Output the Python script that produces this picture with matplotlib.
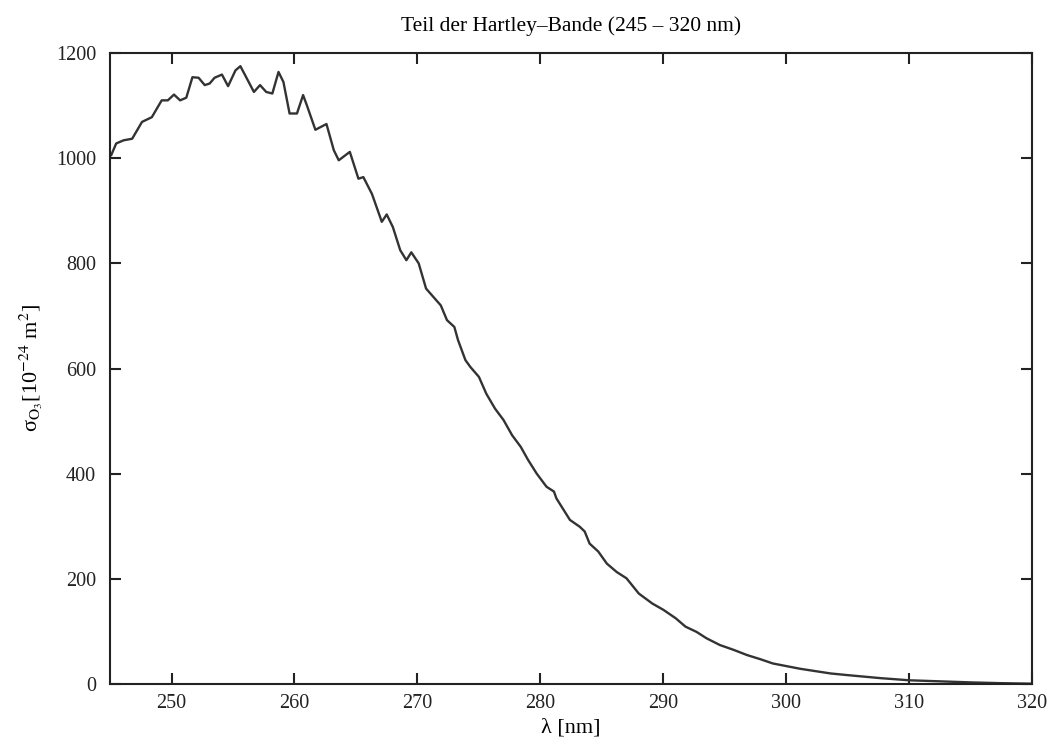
import numpy as np
import matplotlib
matplotlib.use("Agg")
import matplotlib.pyplot as plt

### Ozone absorption cross section
wavelength = [245.1, 245.5, 246.1, 246.8, 247.6, 248.4, 249.2, 249.7, 250.2, 250.7,
              251.2, 251.7, 252.2, 252.7, 253.1, 253.5, 254.1, 254.6, 255.2, 255.6,
              256.7, 257.2, 257.7, 258.2, 258.7, 259.1, 259.6, 260.2, 260.7, 261.0,
              261.7, 262.6, 263.2, 263.6, 264.5, 265.2, 265.6, 266.3, 267.1, 267.5,
              268.0, 268.6, 269.1, 269.5, 270.1, 270.7, 271.9, 272.4, 273.0, 273.3,
              273.9, 274.3, 275.0, 275.6, 276.3, 277.0, 277.7, 278.4, 279.0, 279.7,
              280.5, 281.1, 281.3, 282.4, 283.2, 283.6, 284.0, 284.7, 285.4, 286.2,
              287.0, 288.0, 289.1, 290.0, 291.0, 291.8, 292.7, 293.5, 294.6, 295.7,
              296.8, 297.9, 298.9, 300.0, 301.1, 302.2, 303.6, 304.9, 306.3, 307.7,
              310.0, 312.5, 315.0, 317.5, 320.0]
sigma = [1006, 1028, 1034, 1037, 1069, 1078, 1110, 1110, 1121, 1110,
         1115, 1154, 1153, 1139, 1142, 1153, 1159, 1137, 1167, 1175,
         1126, 1139, 1126, 1123, 1164, 1145, 1085, 1085, 1120, 1101,
         1054, 1065, 1015, 996, 1012, 961, 964, 932, 879, 893,
         869, 825, 806, 821, 800, 752, 720, 692, 679, 654,
         616, 603, 584, 552, 524, 502, 473, 451, 426, 400,
         375, 366, 353, 312, 299, 290, 267, 252, 229, 213,
         201, 172, 153, 141, 125, 109, 99, 87, 74, 65,
         55, 47, 39, 34, 29, 25, 20, 17, 14, 11,
         7, 5, 3, 1.5, 0.5]

xticks = [250, 260, 270, 280, 290, 300, 310, 320]
yticks = [0, 200, 400, 600, 800, 1000, 1200]

plt.rcParams['font.family'] = ['Liberation Serif', 'DejaVu Serif']
plt.rcParams['mathtext.fontset'] = 'stix'

fig = plt.figure(figsize=(10.48, 7.48), dpi=100)
ax = fig.add_axes([0.105, 0.0856, 0.88, 0.8435])
ax.plot(wavelength, sigma, color='#333333', linewidth=1.7)

ax.set_xlim(245, 320)
ax.set_ylim(0, 1200)
ax.set_xticks(xticks)
ax.set_yticks(yticks)
ax.tick_params(direction='in', length=8, width=1.5, top=True, right=True,
               labelsize=14.5, colors='#222222')
ax.tick_params(axis='x', pad=7)
ax.tick_params(axis='y', pad=10)
for s in ax.spines.values():
    s.set_linewidth(1.5)
    s.set_color('#222222')

ax.set_title('Teil der Hartley\u2013Bande (245 \u2013 320 nm)', fontsize=15.5, pad=16)
ax.set_xlabel('\u03bb [nm]', fontsize=16, labelpad=4)
ax.set_ylabel('\u03c3$_{\\mathrm{O}_3}$[10$^{-24}$ m$^2$]', fontsize=16, labelpad=8)

plt.savefig('out.png', dpi=100)
